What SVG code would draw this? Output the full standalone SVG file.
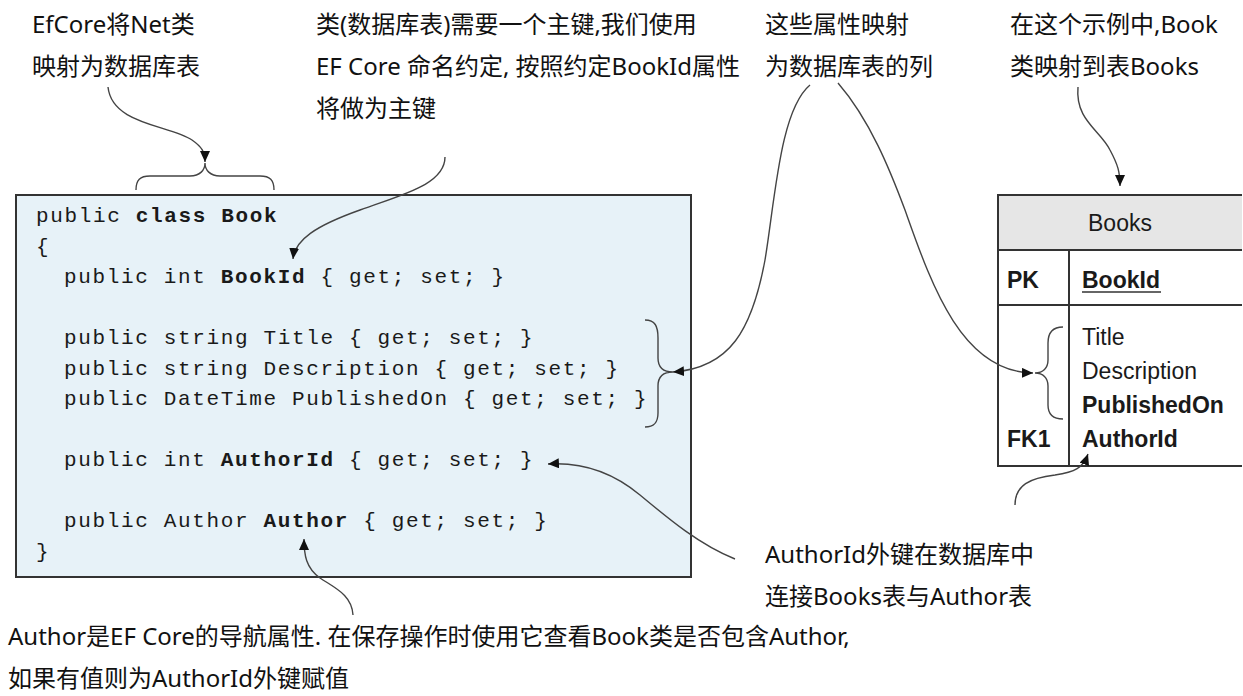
<svg xmlns="http://www.w3.org/2000/svg" width="1243" height="696" viewBox="0 0 1243 696">
<defs>
<marker id="ah" markerUnits="userSpaceOnUse" markerWidth="12" markerHeight="10" refX="11" refY="5" orient="auto"><path d="M0,0 L11,5 L0,10 z" fill="#111"/></marker>
<style>
.note{font-family:"Noto Sans","Noto Sans CJK SC",sans-serif;font-size:24px;fill:#111}
.code{font-family:"Liberation Mono",monospace;font-size:21px;letter-spacing:1.65px;fill:#1a1a1a}
.b{font-weight:bold}
.tbl{font-family:"Liberation Sans",Arial,sans-serif;font-size:23px;fill:#1a1a1a}
.conn{fill:none;stroke:#444;stroke-width:1.4}
.brace{fill:none;stroke:#444;stroke-width:1.4}
</style>
</defs>
<rect width="1243" height="696" fill="#fff"/>

<g id="code-box">
<rect x="16" y="195" width="675" height="382" fill="#e7f2f8" stroke="#333" stroke-width="2"/>
<text class="code" x="36" y="222">public <tspan class="b">class Book</tspan></text>
<text class="code" x="36" y="252.5">{</text>
<text class="code" x="64" y="283">public int <tspan class="b">BookId</tspan> { get; set; }</text>
<text class="code" x="64" y="344">public string Title { get; set; }</text>
<text class="code" x="64" y="374.5">public string Description { get; set; }</text>
<text class="code" x="64" y="405">public DateTime PublishedOn { get; set; }</text>
<text class="code" x="64" y="466">public int <tspan class="b">AuthorId</tspan> { get; set; }</text>
<text class="code" x="64" y="527">public Author <tspan class="b">Author</tspan> { get; set; }</text>
<text class="code" x="36" y="557.5">}</text>
</g>

<g id="books-table">
<rect x="998" y="195" width="244" height="55" fill="#e6e6e6"/>
<path d="M1242,195 L998,195 L998,466 L1242,466 M998,250 L1242,250 M998,305 L1242,305 M1069,250 L1069,466" fill="none" stroke="#333" stroke-width="2"/>
<text class="tbl" x="1120" y="231" text-anchor="middle">Books</text>
<text class="tbl b" x="1007" y="288">PK</text>
<text class="tbl b" x="1082" y="288">BookId</text>
<line x1="1082" y1="292" x2="1161" y2="292" stroke="#333" stroke-width="1.5"/>
<text class="tbl" x="1082" y="345">Title</text>
<text class="tbl" x="1082" y="379">Description</text>
<text class="tbl b" x="1082" y="413">PublishedOn</text>
<text class="tbl b" x="1007" y="447">FK1</text>
<text class="tbl b" x="1082" y="447">AuthorId</text>
</g>

<g id="note-class">
<text class="note" x="32" y="33">EfCore将Net类</text>
<text class="note" x="32" y="75">映射为数据库表</text>
</g>
<g id="note-key">
<text class="note" x="316" y="33">类(数据库表)需要一个主键,我们使用</text>
<text class="note" x="316" y="75">EF Core 命名约定, 按照约定BookId属性</text>
<text class="note" x="316" y="117">将做为主键</text>
</g>
<g id="note-columns">
<text class="note" x="765" y="33">这些属性映射</text>
<text class="note" x="765" y="75">为数据库表的列</text>
</g>
<g id="note-table">
<text class="note" x="1010" y="33">在这个示例中,Book</text>
<text class="note" x="1010" y="75">类映射到表Books</text>
</g>
<g id="note-fk">
<text class="note" x="765" y="563">AuthorId外键在数据库中</text>
<text class="note" x="765" y="605">连接Books表与Author表</text>
</g>
<g id="note-nav">
<text class="note" x="8" y="645">Author是EF Core的导航属性. 在保存操作时使用它查看Book类是否包含Author,</text>
<text class="note" x="8" y="687">如果有值则为AuthorId外键赋值</text>
</g>

<g id="connectors">
<path class="brace" d="M136,190 C136,180 140,176 150,176 L190,176 C200,176 205,170 205,163 C205,170 210,176 220,176 L260,176 C270,176 274,180 274,190"/>
<path class="brace" d="M645,320 C655,320 658,326 658,338 L658,358 C658,368 664,372 673,372 C664,372 658,376 658,386 L658,413 C658,423 654,427 645,427"/>
<path class="brace" d="M1063,327 C1052,327 1048,333 1048,343 L1048,360 C1048,368 1043,373 1035,373 C1043,373 1048,378 1048,386 L1048,405 C1048,414 1052,419 1063,419"/>
<path class="conn" marker-end="url(#ah)" d="M108,87 C112,125 170,125 192,140 C202,147 205,152 205,162"/>
<path class="conn" marker-end="url(#ah)" d="M445,157 C445,185 400,195 360,210 C315,226 295,240 293,259"/>
<path class="conn" marker-end="url(#ah)" d="M810,85 C780,110 775,200 765,260 C752,330 730,368 673,372"/>
<path class="conn" marker-end="url(#ah)" d="M838,83 C870,120 890,170 905,210 C930,280 960,372 1033,373"/>
<path class="conn" marker-end="url(#ah)" d="M1078,87 C1075,120 1100,130 1110,150 C1118,165 1120,172 1120,186"/>
<path class="conn" marker-end="url(#ah)" d="M735,559 C700,545 670,520 640,495 C610,470 580,462 548,464"/>
<path class="conn" marker-end="url(#ah)" d="M1015,505 C1015,485 1030,478 1055,475 C1075,472 1083,468 1088,454"/>
<path class="conn" marker-end="url(#ah)" d="M353,615 C352,595 335,588 320,578 C306,568 304,555 304,539"/>
</g>
</svg>
